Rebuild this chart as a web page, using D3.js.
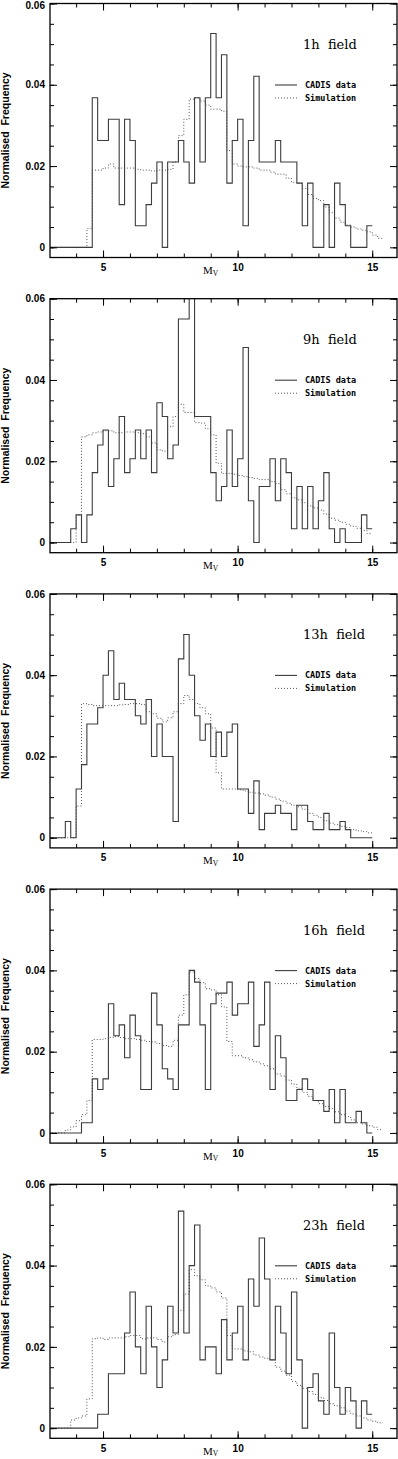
<!DOCTYPE html>
<html><head><meta charset="utf-8">
<script src="https://cdn.jsdelivr.net/npm/d3@7"></script>
<style>
html,body{margin:0;padding:0;background:#fff;}
svg{display:block;}
</style></head><body>
<script>
// ---- data (bins of 0.2 mag starting at M_V = 3.0) ----
const binStart = 3.0;
const binWidth = 0.2;
const fieldNames = ["1h  field", "9h  field", "13h  field", "16h  field", "23h  field"];
const legendLabels = ["CADIS data", "Simulation"];
const xMajorTicks = [5, 10, 15];
const xMinorTicks = [4, 5, 6, 7, 8, 9, 10, 11, 12, 13, 14, 15];
const yMajorTicks = [0, 0.02, 0.04, 0.06];
const yMinorTicks = [0, 0.005, 0.01, 0.015, 0.02, 0.025, 0.03, 0.035, 0.04, 0.045, 0.05, 0.055, 0.06];

const cadis1h = [0,0,0,0,0,0,0,0,
  0.0368,0.0263,0.0263,0.0315,0.0315,0.0105,0.0315,0.0263,
  0.0053,0.0053,0.0105,0.0158,0.0210,0,0.0210,0.0210,
  0.0263,0.0210,0.0158,0.0368,0.0210,0.0368,0.0526,0.0368,
  0.0474,0.0158,0.0263,0.0315,0.0053,0.0263,0.0421,0.0210,
  0.0210,0.0210,0.0263,0.0210,0.0210,0.0210,0.0158,0.0053,
  0.0158,0,0,0.0105,0,0.0158,0.0105,0.0053,
  0,0,0,0.0053];
const sim1h = [0,0,0,0,0,0,0,
  0.0046,
  0.019,0.019,0.0195,0.0205,0.0195,0.0195,0.0195,0.0195,
  0.0192,0.019,0.019,0.0188,0.019,0.019,0.0192,0.021,
  0.0275,0.0315,0.0365,0.0368,0.036,0.035,0.034,0.034,
  0.0335,0.0238,0.0205,0.020,0.0198,0.0198,0.0195,0.019,
  0.019,0.0185,0.018,0.018,0.017,0.016,0.0158,0.0145,
  0.013,0.012,0.0115,0.0099,0.0085,0.0072,0.0062,0.0055,
  0.005,0.0045,0.0042,0.0038,0.003,0.0022];

const cadis9h = [0,0,0,0,
  0.0034,0.0068,0,0.0068,0.0172,0.024,
  0.0277,0.0138,0.0206,0.031,0.0172,
  0.0206,0.0277,0.0206,0.0277,0.0172,
  0.0344,0.031,0.0206,0.024,0.055,
  0.055,0.063,0.031,0.031,0.031,
  0.0172,0.0103,0.0138,0.0277,0.0138,
  0.0206,0.048,0.0103,0,0.0138,
  0.0138,0.0206,0.0103,0.0206,0.0172,
  0.0034,0.0138,0.0034,0.0138,0.0034,
  0.0103,0.0172,0.0034,0,0.0034,
  0,0,0,0.0068,0.0034];
const sim9h = [0,0,0,0,0,
  0.0068,0.026,0.0265,0.027,0.0272,
  0.0275,0.0275,0.027,0.027,0.0272,
  0.0272,0.027,0.0268,0.026,0.0245,
  0.0228,0.0225,0.0285,0.031,0.034,
  0.032,0.032,0.0295,0.0294,0.028,
  0.0265,0.0195,0.017,0.017,0.0168,
  0.0165,0.0162,0.016,0.0158,0.0155,
  0.0155,0.015,0.0145,0.013,0.012,
  0.011,0.0105,0.0098,0.009,0.0085,
  0.008,0.007,0.006,0.0055,0.005,
  0.0045,0.004,0.0035,0.003,0.0022];

const cadis13h = [0,0,0,0.004,0,
  0.012,0.018,0.028,0.028,0.032,
  0.040,0.046,0.034,0.038,0.034,
  0.034,0.030,0.028,0.034,0.020,
  0.028,0.020,0.020,0.004,0.044,
  0.050,0.040,0.030,0.024,0.028,
  0.020,0.026,0.020,0.026,0.028,
  0.012,0.012,0.006,0.014,0.002,
  0.006,0.006,0.008,0.006,0.006,
  0.002,0.008,0.008,0.004,0.002,
  0.002,0.006,0.002,0.002,0.004,
  0.002,0,0,0,0];
const sim13h = [0,0,0,0,0,
  0.0078,0.033,0.0328,0.0325,0.0325,
  0.0325,0.0325,0.0325,0.0327,0.0328,
  0.033,0.033,0.0328,0.031,0.0305,
  0.0294,0.0285,0.0295,0.031,0.033,
  0.035,0.034,0.033,0.032,0.0305,
  0.027,0.016,0.012,0.012,0.012,
  0.0118,0.0115,0.0112,0.011,0.0108,
  0.0105,0.01,0.0095,0.009,0.0085,
  0.008,0.0076,0.007,0.006,0.0055,
  0.005,0.0042,0.0036,0.0032,0.0028,
  0.0025,0.002,0.0017,0.0015,0.0012];

const cadis16h = [0,0,0,0,0,0,
  0.0025,0.0025,0.0133,0.0107,
  0.0133,0.0318,0.0239,0.0266,0.0185,
  0.029,0.0239,0.0107,0.0107,0.0344,
  0.0266,0.0158,0.0133,0.0107,0.0266,
  0.0266,0.040,0.0371,0.0266,0.0107,
  0.0318,0.0344,0.0344,0.0371,0.029,
  0.0318,0.0318,0.0371,0.0213,0.0266,
  0.0371,0.0107,0.0239,0.0185,0.008,
  0.008,0.0107,0.0133,0.0107,0.008,
  0.008,0.0053,0.0107,0.0025,0.0107,
  0.0025,0.0025,0.0053,0.0025,0];
const sim16h = [0,0,0,0.0007,0.0015,0.003,0.0045,0.008,0.023,0.023,
  0.0232,0.0235,0.0237,0.0235,0.0232,
  0.0232,0.023,0.0228,0.0225,0.0224,
  0.022,0.0215,0.0213,0.0228,0.029,
  0.034,0.0396,0.038,0.037,0.0355,
  0.0352,0.034,0.031,0.0225,0.019,
  0.019,0.0185,0.018,0.0175,0.017,
  0.0165,0.0158,0.0145,0.014,0.013,
  0.012,0.011,0.01,0.009,0.008,
  0.0072,0.0065,0.006,0.0052,0.0045,
  0.004,0.0032,0.0025,0.0022,0.0018,
  0.0014,0.0008];

const cadis23h = [0,0,0,0,0,0,0,0,0,
  0.0034,0.0034,
  0.0134,0.0134,0.0134,0.0234,
  0.0335,0.020,0.0134,0.030,0.020,
  0.010,0.0168,0.030,0.0234,0.0534,
  0.0234,0.040,0.050,0.0168,0.020,
  0.020,0.0134,0.0267,0.0168,0.0234,
  0.030,0.0168,0.0367,0.030,0.0468,
  0.0367,0.0168,0.030,0.0234,0.0134,
  0.0335,0.0168,0,0.010,0.0134,
  0.0067,0.0034,0.0234,0.010,0.0034,
  0.010,0.0067,0,0.0067,0.0034];
const sim23h = [0,0,0,0,0.002,0.0025,0.003,0.0072,0.022,0.0222,
  0.0218,0.0222,0.0222,0.0222,0.0225,
  0.0228,0.0228,0.022,0.0222,0.0222,
  0.0218,0.0212,0.0225,0.023,0.029,
  0.033,0.039,0.0375,0.0365,0.035,
  0.0345,0.0335,0.032,0.0228,0.0195,
  0.0195,0.019,0.0188,0.018,0.0175,
  0.0172,0.0168,0.015,0.014,0.013,
  0.0115,0.0105,0.0098,0.009,0.0083,
  0.0075,0.0068,0.006,0.0055,0.005,
  0.0042,0.0035,0.003,0.0025,0.002,
  0.0017,0.0013];

const cadisSeries = [cadis1h, cadis9h, cadis13h, cadis16h, cadis23h];
const simSeries = [sim1h, sim9h, sim13h, sim16h, sim23h];

// ---- layout ----
const W = 398, H = 1459;
const left = 50, right = 397;
const panelTop0 = 3.5, panelStep = 295.2, panelH = 254;

const svg = d3.select("body").append("svg").attr("width", W).attr("height", H);

const x = d3.scaleLinear().domain([3.03, 15.92]).range([left, right]);

function toPoints(vals) {
  const pts = vals.map((v, i) => [binStart + i * binWidth, v]);
  pts.push([binStart + vals.length * binWidth, vals[vals.length - 1]]);
  return pts;
}

const defs = svg.append("defs");

fieldNames.forEach((name, k) => {
  const T = panelTop0 + k * panelStep;
  const y = d3.scaleLinear().domain([-0.0025, 0.06]).range([T + panelH, T]);
  const g = svg.append("g");

  defs.append("clipPath").attr("id", "clip" + k)
    .append("rect").attr("x", left).attr("y", T).attr("width", right - left).attr("height", panelH);

  const line = d3.line().x(d => x(d[0])).y(d => y(d[1])).curve(d3.curveStepAfter);

  const plot = g.append("g").attr("clip-path", `url(#clip${k})`);
  plot.append("path").attr("d", line(toPoints(simSeries[k])))
    .attr("fill", "none").attr("stroke", "#555").attr("stroke-width", 1)
    .attr("stroke-dasharray", "1,2");
  plot.append("path").attr("d", line(toPoints(cadisSeries[k])))
    .attr("fill", "none").attr("stroke", "#3c3c3c").attr("stroke-width", 1.1);

  const styleAxis = sel => {
    sel.select(".domain").remove();
    sel.selectAll(".tick line").attr("stroke", "#000").attr("stroke-width", 1);
  };
  // bottom
  g.append("g").attr("transform", `translate(0,${T + panelH})`)
    .call(d3.axisBottom(x).tickValues(xMinorTicks).tickSizeInner(-4).tickSizeOuter(0).tickFormat(""))
    .call(styleAxis);
  g.append("g").attr("transform", `translate(0,${T + panelH})`)
    .call(d3.axisBottom(x).tickValues(xMajorTicks).tickSizeInner(-7).tickSizeOuter(0).tickPadding(6.5).tickFormat(d3.format("d")))
    .call(styleAxis)
    .call(a => a.selectAll("text").attr("font-family", "'Liberation Sans', Arial, sans-serif")
      .attr("font-weight", "bold").attr("font-size", 10).attr("fill", "#000"));
  // top
  g.append("g").attr("transform", `translate(0,${T})`)
    .call(d3.axisTop(x).tickValues(xMinorTicks).tickSizeInner(-4).tickSizeOuter(0).tickFormat(""))
    .call(styleAxis);
  g.append("g").attr("transform", `translate(0,${T})`)
    .call(d3.axisTop(x).tickValues(xMajorTicks).tickSizeInner(-7).tickSizeOuter(0).tickFormat(""))
    .call(styleAxis);
  // left
  g.append("g").attr("transform", `translate(${left},0)`)
    .call(d3.axisLeft(y).tickValues(yMinorTicks).tickSizeInner(-4).tickSizeOuter(0).tickFormat(""))
    .call(styleAxis);
  g.append("g").attr("transform", `translate(${left},0)`)
    .call(d3.axisLeft(y).tickValues(yMajorTicks).tickSizeInner(-7).tickSizeOuter(0).tickPadding(5)
      .tickFormat(d => d === 0 ? "0" : d3.format(".2f")(d)))
    .call(styleAxis)
    .call(a => a.selectAll("text").attr("font-family", "'Liberation Sans', Arial, sans-serif")
      .attr("font-weight", "bold").attr("font-size", 10).attr("fill", "#000")
      .attr("dy", d => (k === 0 && d === 0.06) ? "0.47em" : "0.32em"));
  // right
  g.append("g").attr("transform", `translate(${right},0)`)
    .call(d3.axisRight(y).tickValues(yMinorTicks).tickSizeInner(-4).tickSizeOuter(0).tickFormat(""))
    .call(styleAxis);
  g.append("g").attr("transform", `translate(${right},0)`)
    .call(d3.axisRight(y).tickValues(yMajorTicks).tickSizeInner(-7).tickSizeOuter(0).tickFormat(""))
    .call(styleAxis);

  // frame
  g.append("rect").attr("x", left).attr("y", T).attr("width", right - left).attr("height", panelH)
    .attr("fill", "none").attr("stroke", "#000").attr("stroke-width", 1.3);

  // title
  g.append("text").attr("x", 303).attr("y", T + 45.5)
    .attr("font-family", "'DejaVu Serif', serif").attr("font-size", 13)
    .style("white-space", "pre").attr("fill", "#000").text(name);

  // legend
  g.append("line").attr("x1", 275).attr("x2", 297).attr("y1", T + 81.5).attr("y2", T + 81.5)
    .attr("stroke", "#3c3c3c").attr("stroke-width", 1.1);
  g.append("line").attr("x1", 275).attr("x2", 297).attr("y1", T + 94.5).attr("y2", T + 94.5)
    .attr("stroke", "#555").attr("stroke-width", 1).attr("stroke-dasharray", "1,2");
  legendLabels.forEach((lab, i) => {
    g.append("text").attr("x", 305).attr("y", T + 84.5 + i * 13)
      .attr("font-family", "'DejaVu Sans Mono', monospace").attr("font-weight", "bold")
      .attr("font-size", 8.5).attr("fill", "#000").style("white-space", "pre").text(lab);
  });

  // y label
  g.append("text").attr("transform", `translate(9,${T + 127}) rotate(-90)`)
    .attr("text-anchor", "middle").attr("font-family", "'Liberation Sans', Arial, sans-serif")
    .attr("font-weight", "bold").attr("font-size", 10.5).attr("fill", "#000")
    .style("white-space", "pre").text("Normalised  Frequency");

  // x label M_V
  const xl = g.append("text").attr("x", 203).attr("y", T + 270.5)
    .attr("font-family", "'Liberation Serif', 'Times New Roman', serif").attr("font-size", 11).attr("fill", "#000");
  xl.append("tspan").text("M");
  xl.append("tspan").attr("font-size", 7.5).attr("dy", 1.5).text("V");
});
</script>
</body></html>
